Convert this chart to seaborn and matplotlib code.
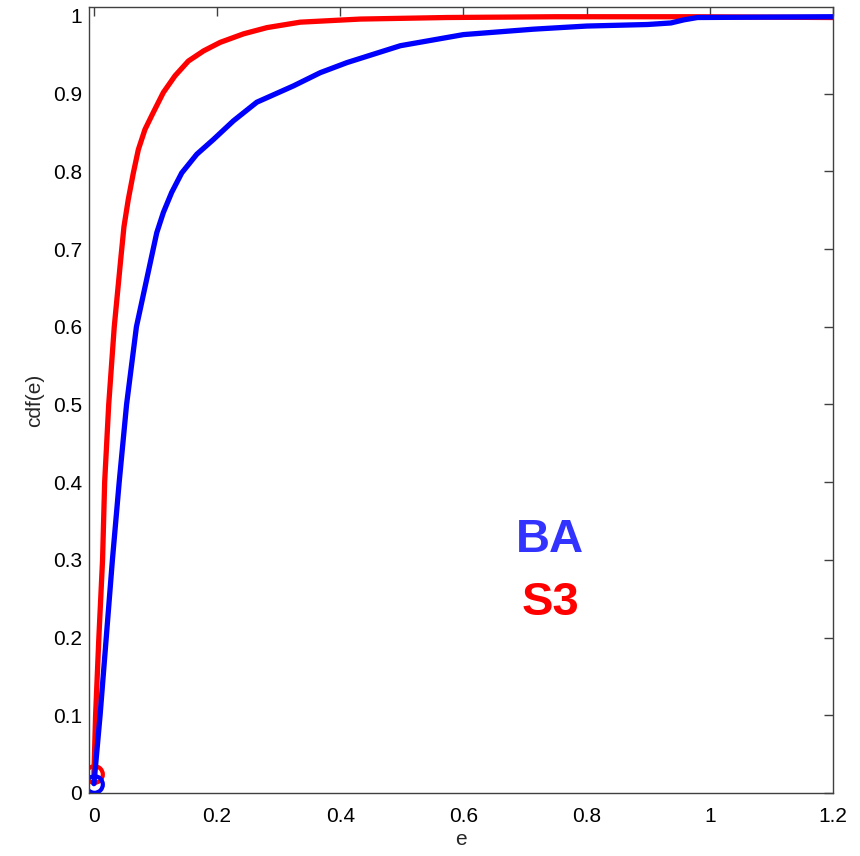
import numpy as np
import pandas as pd
import seaborn as sns
import matplotlib.pyplot as plt

## values
s3_e = [0, 0.0027, 0.008, 0.014, 0.0174, 0.024, 0.033, 0.0434, 0.0488, 0.0558, 0.064,
        0.0721, 0.0829, 0.0965, 0.1127, 0.1317, 0.1534, 0.178, 0.205, 0.243, 0.281,
        0.335, 0.4325, 0.574, 0.75, 0.966, 1.2]
s3_cdf = [0.025, 0.1, 0.2, 0.3, 0.4, 0.5, 0.6, 0.686, 0.729, 0.764, 0.798,
          0.828, 0.854, 0.876, 0.9015, 0.923, 0.942, 0.955, 0.966, 0.977, 0.985,
          0.992, 0.996, 0.998, 0.999, 0.999, 0.998]

ba_e = [0, 0.010, 0.020, 0.030, 0.041, 0.053, 0.069, 0.0938, 0.102, 0.1127, 0.1263,
        0.1426, 0.167, 0.194, 0.2265, 0.2645, 0.324, 0.3675, 0.411, 0.4976, 0.6,
        0.714, 0.8, 0.899, 0.937, 0.958, 0.98, 1.2]
ba_cdf = [0.012, 0.1, 0.2, 0.3, 0.4, 0.5, 0.6, 0.691, 0.721, 0.747, 0.773,
          0.798, 0.822, 0.841, 0.865, 0.889, 0.910, 0.927, 0.940, 0.9617, 0.976,
          0.983, 0.987, 0.989, 0.991, 0.995, 0.998, 0.999]

x_ticks = [0, 0.2, 0.4, 0.6, 0.8, 1, 1.2]
x_tick_labels = ['0', '0.2', '0.4', '0.6', '0.8', '1', '1.2']
y_ticks = [0, 0.1, 0.2, 0.3, 0.4, 0.5, 0.6, 0.7, 0.8, 0.9, 1]
y_tick_labels = ['0', '0.1', '0.2', '0.3', '0.4', '0.5', '0.6', '0.7', '0.8', '0.9', '1']

df_s3 = pd.DataFrame({'e': s3_e, 'cdf': s3_cdf})
df_ba = pd.DataFrame({'e': ba_e, 'cdf': ba_cdf})

sns.set_style('white')
plt.rcParams['font.family'] = ['Liberation Sans', 'DejaVu Sans']

fig = plt.figure(figsize=(8.6, 8.56), dpi=100)
ax = fig.add_axes([0.1035, 0.0736, 0.865, 0.9182])

## curves (S3 first, BA drawn on top)
sns.lineplot(data=df_s3, x='e', y='cdf', ax=ax, sort=False, color='#ff0000', linewidth=3.8,
             marker='o', markevery=[0], markersize=12, markerfacecolor='none',
             markeredgecolor='#ff0000', markeredgewidth=3)
sns.lineplot(data=df_ba, x='e', y='cdf', ax=ax, sort=False, color='#0000ff', linewidth=3.8,
             marker='o', markevery=[0], markersize=12, markerfacecolor='none',
             markeredgecolor='#0000ff', markeredgewidth=3)

## in-plot labels
ax.text(0.741, 0.325, 'BA', color='#3333ff', fontsize=34, fontweight='bold',
        ha='center', va='center')
ax.text(0.741, 0.245, 'S3', color='#ff0000', fontsize=34, fontweight='bold',
        ha='center', va='center')

ax.set_xlim(-0.008, 1.2)
ax.set_ylim(0, 1.0115)
ax.set_xticks(x_ticks)
ax.set_xticklabels(x_tick_labels)
ax.set_yticks(y_ticks)
ax.set_yticklabels(y_tick_labels)
ax.tick_params(direction='in', length=6.5, width=1, color='#404040', labelsize=15,
               top=True, right=True, labelcolor='black')
ax.tick_params(axis='x', pad=10)
ax.tick_params(axis='y', pad=5)
for sp in ax.spines.values():
    sp.set_visible(True)
    sp.set_color('#404040')
    sp.set_linewidth(1)

ax.set_xlabel('e', fontsize=15, labelpad=3)
ax.set_ylabel('cdf(e)', fontsize=15, labelpad=6)

fig.savefig('out.png', dpi=100)
